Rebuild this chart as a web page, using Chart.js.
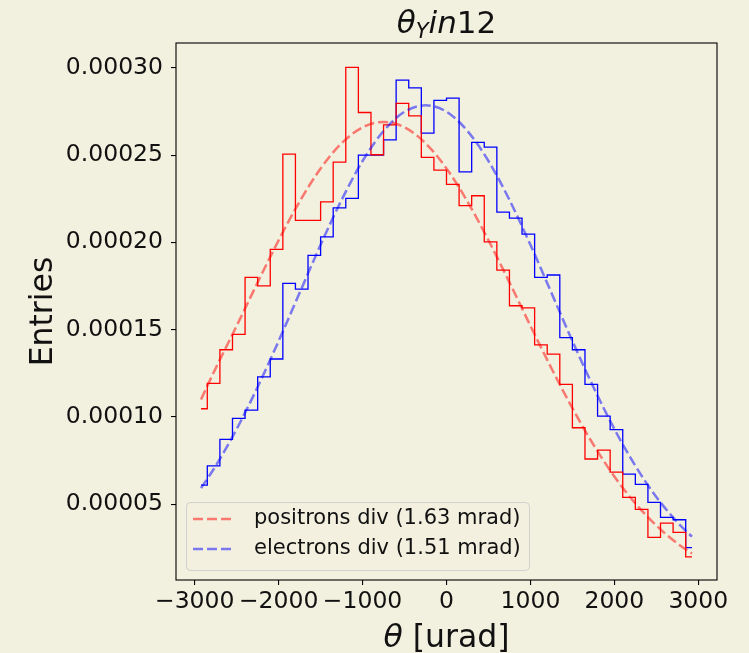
<!DOCTYPE html>
<html>
<head>
<meta charset="utf-8">
<script src="https://cdn.jsdelivr.net/npm/chart.js@4.4.0/dist/chart.umd.min.js"></script>
<style>
  html, body { margin: 0; padding: 0; background: #f2f0de; }
  #wrap { width: 749px; height: 653px; }
</style>
</head>
<body>
<div id="wrap"><canvas id="thetaChart" width="749" height="653"></canvas></div>
<script>
// histogram bin centres [urad], 150 urad wide bins
const binCenters = [-2925, -2775, -2625, -2475, -2325, -2175, -2025, -1875, -1725, -1575,
  -1425, -1275, -1125, -975, -825, -675, -525, -375, -225, -75,
  75, 225, 375, 525, 675, 825, 975, 1125, 1275, 1425,
  1575, 1725, 1875, 2025, 2175, 2325, 2475, 2625, 2775, 2925];

// normalised entries per bin
const positronEntries = [1.047e-4, 1.192e-4, 1.385e-4, 1.473e-4, 1.799e-4, 1.751e-4, 1.960e-4, 2.506e-4, 2.126e-4, 2.126e-4,
  2.232e-4, 2.460e-4, 3.002e-4, 2.744e-4, 2.502e-4, 2.673e-4, 2.796e-4, 2.725e-4, 2.487e-4, 2.414e-4,
  2.332e-4, 2.210e-4, 2.267e-4, 2.003e-4, 1.841e-4, 1.637e-4, 1.625e-4, 1.413e-4, 1.360e-4, 1.186e-4,
  0.938e-4, 0.759e-4, 0.810e-4, 0.684e-4, 0.539e-4, 0.471e-4, 0.310e-4, 0.392e-4, 0.339e-4, 0.198e-4];

const electronEntries = [0.610e-4, 0.720e-4, 0.872e-4, 0.992e-4, 1.039e-4, 1.230e-4, 1.332e-4, 1.765e-4, 1.732e-4, 1.925e-4,
  2.032e-4, 2.198e-4, 2.252e-4, 2.500e-4, 2.500e-4, 2.587e-4, 2.929e-4, 2.885e-4, 2.626e-4, 2.813e-4,
  2.826e-4, 2.404e-4, 2.573e-4, 2.546e-4, 2.173e-4, 2.139e-4, 2.047e-4, 1.799e-4, 1.813e-4, 1.454e-4,
  1.385e-4, 1.186e-4, 1.005e-4, 0.927e-4, 0.673e-4, 0.614e-4, 0.511e-4, 0.425e-4, 0.411e-4, 0.251e-4];

// gaussian fits
const fitX = [-2925, -2750, -2500, -2250, -2000, -1750, -1500, -1250, -1000, -750, -500, -250, 0,
  250, 500, 750, 1000, 1250, 1500, 1750, 2000, 2250, 2500, 2750, 2925];
const positronFit = [1.100e-4, 1.279e-4, 1.522e-4, 1.771e-4, 2.012e-4, 2.234e-4, 2.423e-4, 2.568e-4, 2.659e-4, 2.690e-4, 2.659e-4, 2.568e-4, 2.423e-4,
  2.234e-4, 2.012e-4, 1.771e-4, 1.522e-4, 1.279e-4, 1.050e-4, 0.842e-4, 0.659e-4, 0.505e-4, 0.378e-4, 0.276e-4, 0.218e-4];
const electronFit = [0.592e-4, 0.720e-4, 0.931e-4, 1.172e-4, 1.435e-4, 1.711e-4, 1.986e-4, 2.243e-4, 2.466e-4, 2.638e-4, 2.748e-4, 2.785e-4, 2.748e-4,
  2.638e-4, 2.466e-4, 2.243e-4, 1.986e-4, 1.711e-4, 1.435e-4, 1.172e-4, 0.931e-4, 0.720e-4, 0.542e-4, 0.397e-4, 0.314e-4];

const legendLabels = ['positrons div (1.63 mrad)', 'electrons div (1.51 mrad)'];
const xTicks = [-3000, -2000, -1000, 0, 1000, 2000, 3000];
const yTicks = [0.00005, 0.00010, 0.00015, 0.00020, 0.00025, 0.00030];

const BG = '#f2f0de';
const FONT = '"DejaVu Sans", sans-serif';
const TEXT = '#111';

const toPoints = (xs, ys) => xs.map((x, i) => ({ x: x, y: ys[i] }));

// title, axis labels, frame and legend, drawn like matplotlib does
const decorations = {
  id: 'decorations',
  beforeDraw(chart) {
    const ctx = chart.ctx;
    ctx.save();
    ctx.fillStyle = BG;
    ctx.fillRect(0, 0, chart.width, chart.height);
    ctx.restore();
  },
  afterDraw(chart) {
    const { ctx, chartArea: a } = chart;
    const cx = (a.left + a.right) / 2;
    ctx.save();

    // frame
    ctx.strokeStyle = '#000';
    ctx.lineWidth = 1.1;
    ctx.strokeRect(a.left, a.top, a.right - a.left, a.bottom - a.top);

    ctx.fillStyle = TEXT;
    ctx.textBaseline = 'alphabetic';

    // title: theta_Y in12
    drawPieces(ctx, [
      { t: '\u03B8', f: 'italic 31px ' + FONT, dy: 0 },
      { t: 'Y', f: 'italic 21px ' + FONT, dy: 5 },
      { t: 'in', f: 'italic 31px ' + FONT, dy: 0 },
      { t: '12', f: '31px ' + FONT, dy: 0 }
    ], cx, 33);

    // x label
    drawPieces(ctx, [
      { t: '\u03B8', f: 'italic 31.5px ' + FONT, dy: 0 },
      { t: ' [urad]', f: '31.5px ' + FONT, dy: 0 }
    ], cx, 647);

    // y label
    ctx.save();
    ctx.translate(52, (a.top + a.bottom) / 2);
    ctx.rotate(-Math.PI / 2);
    ctx.font = '31.5px ' + FONT;
    ctx.textAlign = 'center';
    ctx.fillText('Entries', 0, 0);
    ctx.restore();

    // legend
    const lx = 186.5, ly = 502.5, lw = 343, lh = 68;
    ctx.beginPath();
    ctx.roundRect(lx, ly, lw, lh, 4);
    ctx.fillStyle = 'rgba(242,240,222,0.8)';
    ctx.fill();
    ctx.strokeStyle = 'rgba(204,204,204,0.9)';
    ctx.lineWidth = 1;
    ctx.stroke();

    const fits = chart.data.datasets.filter(d => d.label);
    fits.forEach((d, i) => {
      const y = 519 + i * 30;
      ctx.beginPath();
      ctx.setLineDash(d.borderDash);
      ctx.strokeStyle = d.borderColor;
      ctx.lineWidth = d.borderWidth;
      ctx.moveTo(193, y);
      ctx.lineTo(235, y);
      ctx.stroke();
      ctx.setLineDash([]);
      ctx.fillStyle = TEXT;
      ctx.font = '21px ' + FONT;
      ctx.textAlign = 'left';
      ctx.textBaseline = 'middle';
      ctx.fillText(d.label, 254, y);
    });
    ctx.restore();
  }
};

function drawPieces(ctx, pieces, cx, baseline) {
  let total = 0;
  pieces.forEach(p => { ctx.font = p.f; p.w = ctx.measureText(p.t).width; total += p.w; });
  let x = cx - total / 2;
  ctx.textAlign = 'left';
  pieces.forEach(p => {
    ctx.font = p.f;
    ctx.fillText(p.t, x, baseline + p.dy);
    x += p.w;
  });
}

const ctx = document.getElementById('thetaChart').getContext('2d');

new Chart(ctx, {
  type: 'line',
  data: {
    datasets: [
      {
        label: legendLabels[0],
        data: toPoints(fitX, positronFit),
        borderColor: 'rgba(255,0,0,0.5)',
        borderWidth: 2.5,
        borderDash: [10, 4],
        cubicInterpolationMode: 'monotone',
        pointRadius: 0,
        fill: false
      },
      {
        label: legendLabels[1],
        data: toPoints(fitX, electronFit),
        borderColor: 'rgba(0,0,255,0.5)',
        borderWidth: 2.5,
        borderDash: [10, 4],
        cubicInterpolationMode: 'monotone',
        pointRadius: 0,
        fill: false
      },
      {
        label: '',
        data: toPoints(binCenters, positronEntries),
        borderColor: '#ff0000',
        borderWidth: 1.3,
        stepped: 'middle',
        pointRadius: 0,
        fill: false
      },
      {
        label: '',
        data: toPoints(binCenters, electronEntries),
        borderColor: '#0000ff',
        borderWidth: 1.3,
        stepped: 'middle',
        pointRadius: 0,
        fill: false
      }
    ]
  },
  options: {
    responsive: false,
    animation: false,
    devicePixelRatio: 1,
    layout: {
      padding: { top: 43, right: 32, left: 0, bottom: 0 }
    },
    plugins: {
      legend: { display: false },
      tooltip: { enabled: false },
      title: { display: false }
    },
    scales: {
      x: {
        type: 'linear',
        bounds: 'data',
        min: -3223,
        max: 3223,
        afterBuildTicks: scale => { scale.ticks = xTicks.map(v => ({ value: v })); },
        afterFit: scale => { scale.height = 73; },
        border: { display: false },
        grid: {
          display: true,
          drawOnChartArea: false,
          drawTicks: true,
          tickLength: 5,
          color: '#000',
          lineWidth: 1.1
        },
        ticks: {
          autoSkip: false,
          maxRotation: 0,
          padding: 3,
          color: TEXT,
          font: { family: FONT, size: 23.5 },
          callback: v => (v < 0 ? '\u2212' + Math.abs(v) : String(v))
        }
      },
      y: {
        type: 'linear',
        bounds: 'data',
        min: 0.0000066,
        max: 0.0003142,
        afterBuildTicks: scale => { scale.ticks = yTicks.map(v => ({ value: v })); },
        afterFit: scale => { scale.width = 176; },
        border: { display: false },
        grid: {
          display: true,
          drawOnChartArea: false,
          drawTicks: true,
          tickLength: 5,
          color: '#000',
          lineWidth: 1.1
        },
        ticks: {
          padding: 8,
          color: TEXT,
          font: { family: FONT, size: 23.5 },
          callback: v => v.toFixed(5)
        }
      }
    }
  },
  plugins: [decorations]
});
</script>
</body>
</html>
